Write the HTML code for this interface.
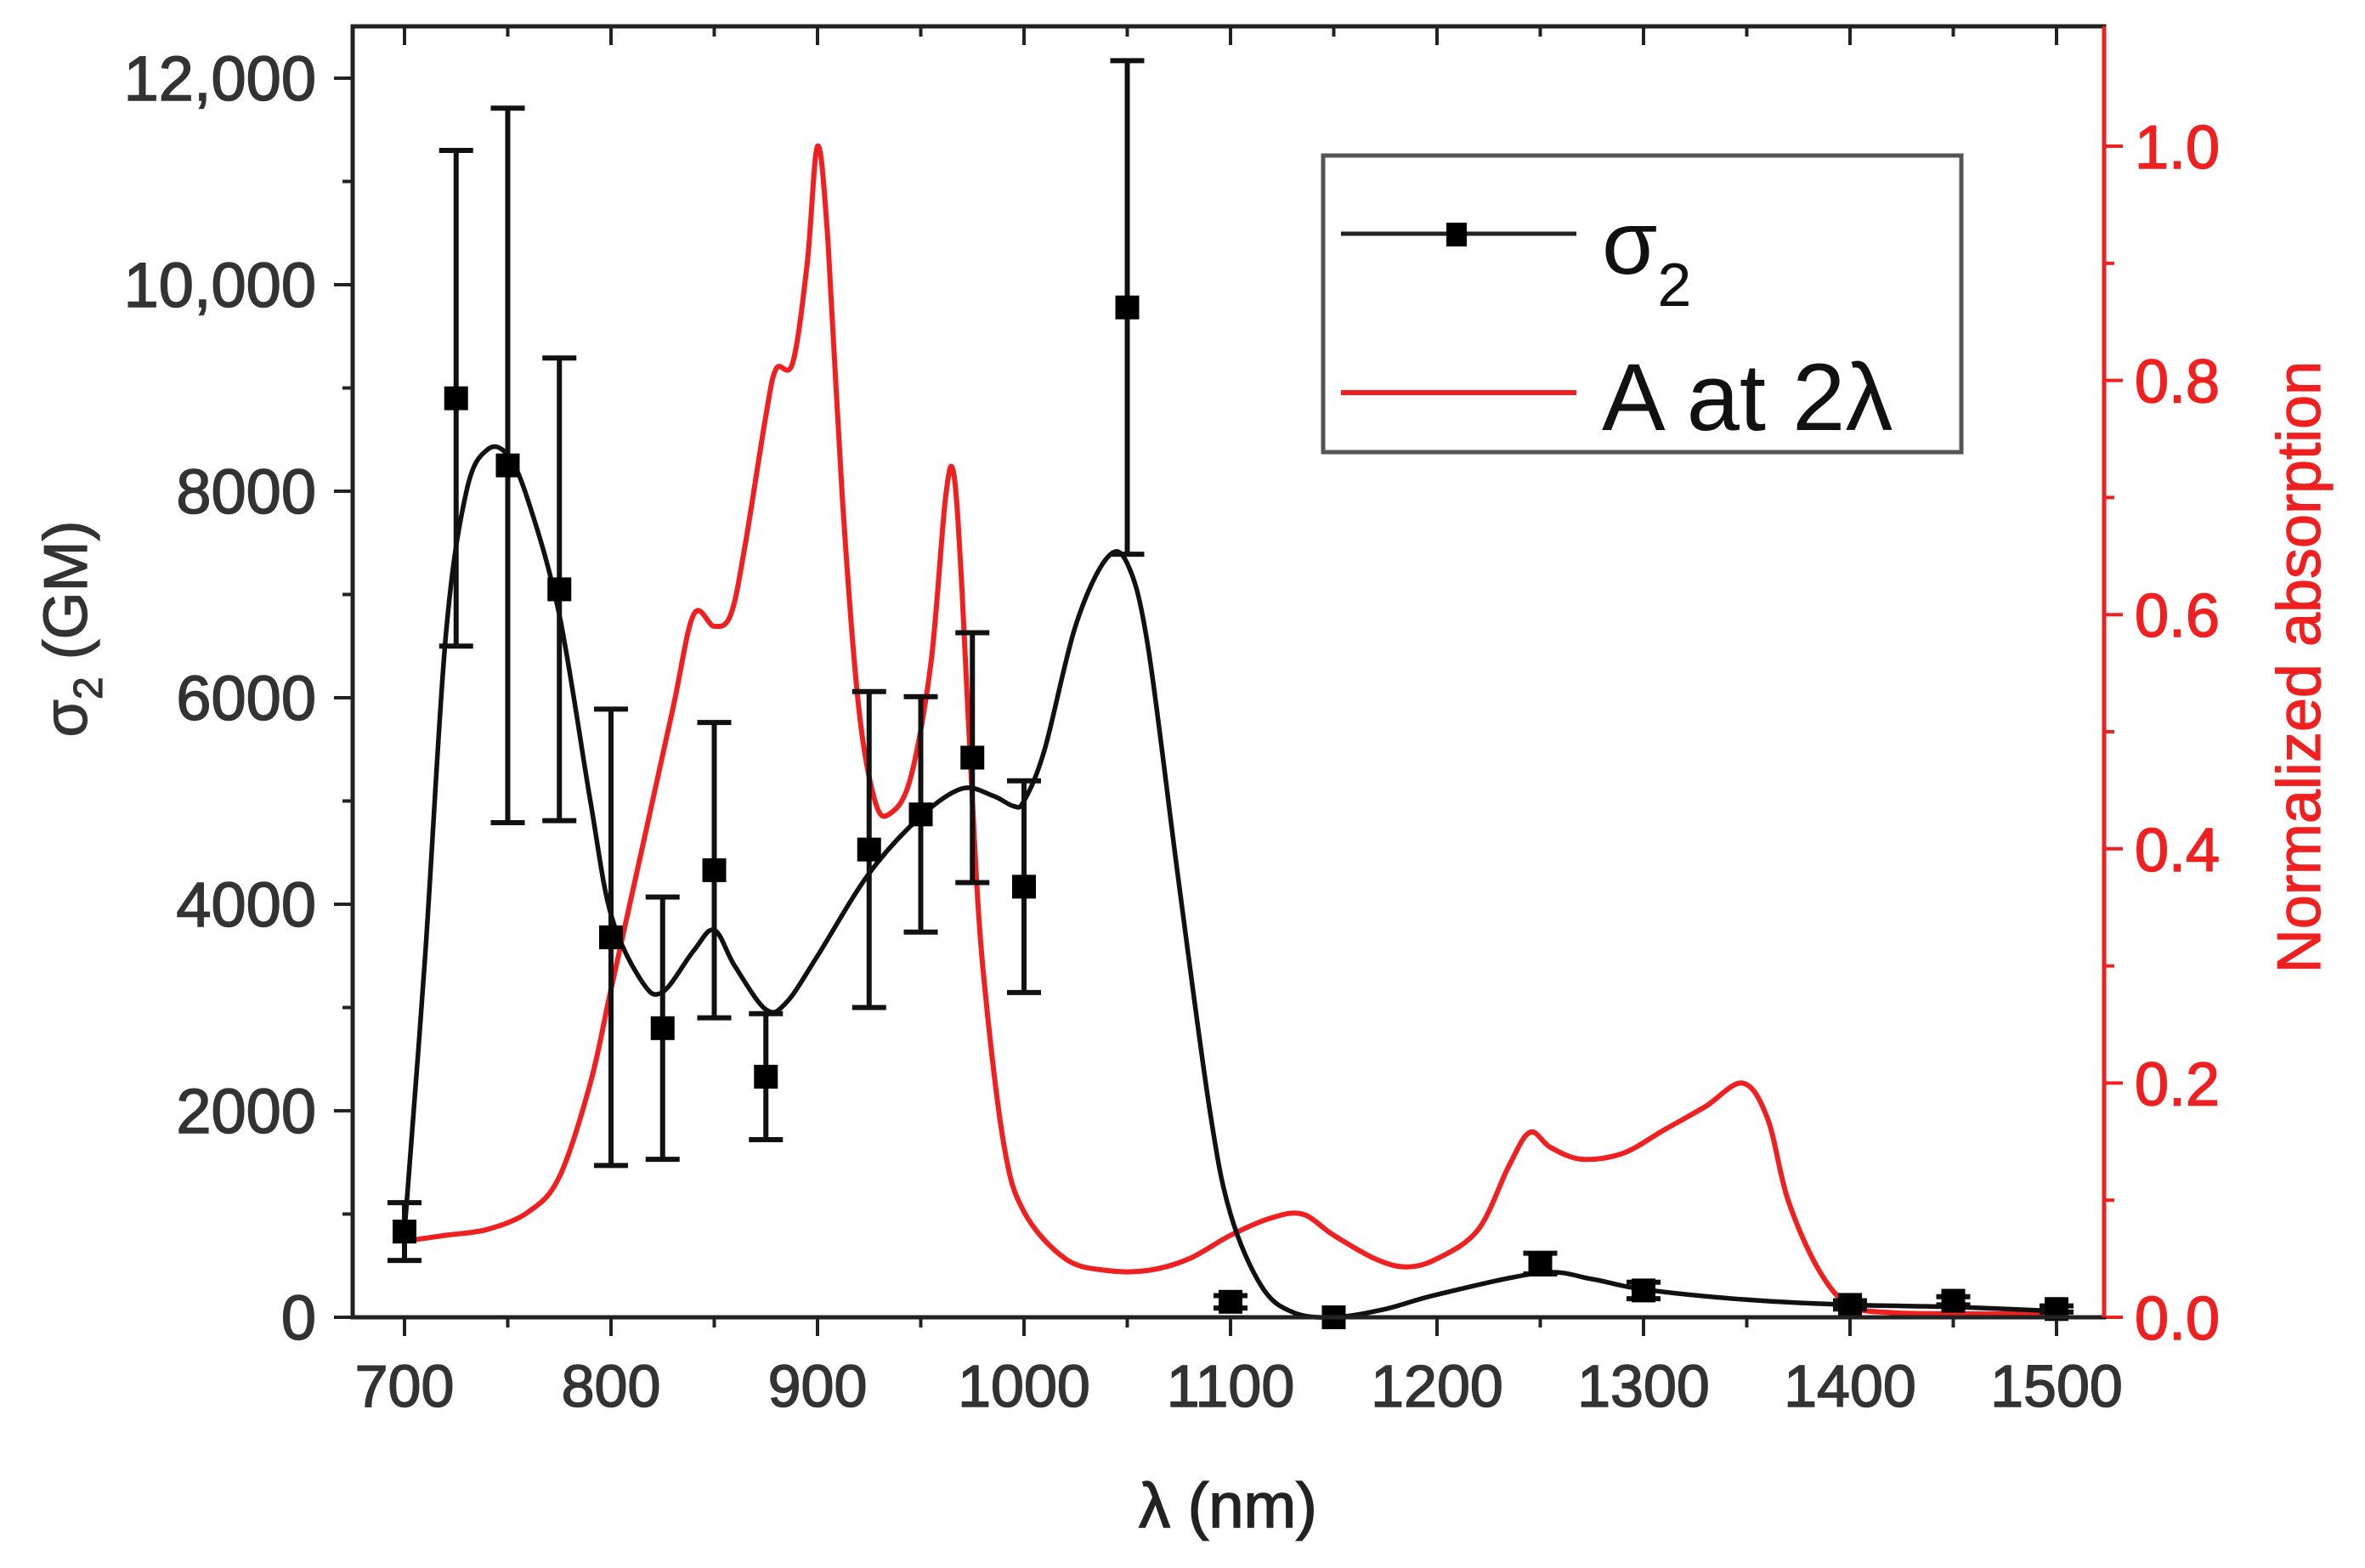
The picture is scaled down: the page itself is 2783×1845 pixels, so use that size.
<!DOCTYPE html>
<html><head><meta charset="utf-8">
<style>
html,body{margin:0;padding:0;background:#fff;}
svg{display:block;font-family:"Liberation Sans",Arial,sans-serif;}
</style></head>
<body>
<svg id="chart" width="2783" height="1845" viewBox="0 0 2783 1845" xmlns="http://www.w3.org/2000/svg">
<rect x="0" y="0" width="2783" height="1845" fill="#fff"/>
<g id="grid-layer"></g>
<g id="red-layer"></g>
<g id="black-layer"></g>
<rect x="415" y="31" width="2061" height="1519" fill="none" stroke="#222" stroke-width="5"/>
<line x1="2476" y1="31" x2="2476" y2="1550" stroke="#f02020" stroke-width="5"/>
<text x="1445" y="1797" font-size="74" stroke="#222" stroke-width="1.5" text-anchor="middle" fill="#222">λ (nm)</text>
<text transform="translate(102,740) rotate(-90)" font-size="72" stroke="#333" stroke-width="1.2" text-anchor="middle" fill="#333">σ<tspan font-size="48" dy="18">2</tspan><tspan dy="-18"> (GM)</tspan></text>
<text transform="translate(2730,785) rotate(-90)" font-size="72" stroke="#f02020" stroke-width="1.2" text-anchor="middle" fill="#f02020">Normalized absorption</text>
<g>
<rect x="1557" y="183" width="751" height="349" fill="#fff" stroke="#555" stroke-width="5"/>
<line x1="1578" y1="275" x2="1855" y2="275" stroke="#222" stroke-width="5"/>
<rect x="1702" y="262" width="24" height="28" fill="#000"/>
<text x="1885" y="322" font-size="106" fill="#111">σ<tspan font-size="72" dy="38">2</tspan></text>
<line x1="1578" y1="462" x2="1855" y2="462" stroke="#f02020" stroke-width="6"/>
<text x="1885" y="506" font-size="112" fill="#111">A at 2λ</text>
</g>
</svg>
<script>
const xTicks = [700,800,900,1000,1100,1200,1300,1400,1500];
const yTicks = [0,2000,4000,6000,8000,10000,12000];
const yTickLabels = ["0","2000","4000","6000","8000","10,000","12,000"];
const y2Ticks = [0,0.2,0.4,0.6,0.8,1.0];
const y2TickLabels = ["0.0","0.2","0.4","0.6","0.8","1.0"];

const sigmaX = [700,725,750,775,800,825,850,875,925,950,975,1000,1050,1100,1150,1250,1300,1400,1450,1500];
const sigmaY = [830,8900,8250,7050,3680,2800,4330,2330,4530,4870,5420,4170,9780,150,0,520,260,120,160,80];
const sigmaErr = [280,2400,3460,2240,2210,1270,1430,610,1530,1140,1210,1025,2390,60,0,100,80,40,40,30];

const fitX = [700,710,720,730,740,750,760,775,790,800,815,825,840,850,860,875,885,900,925,950,970,985,995,1000,1010,1025,1040,1050,1060,1075,1090,1100,1115,1130,1150,1175,1200,1250,1275,1300,1350,1400,1450,1500];
const fitY = [830,3500,6600,8000,8400,8350,7900,6800,5000,3900,3250,3150,3550,3750,3400,2980,3050,3500,4300,4850,5120,5050,4950,5000,5500,6700,7350,7300,6500,4200,2000,1000,300,50,0,80,220,430,370,270,170,120,100,60];

const absX = [700,720,740,760,775,790,800,815,830,840,850,858,865,875,880,888,895,900,905,912,920,928,935,945,955,962,966,970,975,980,990,1000,1020,1040,1060,1080,1100,1120,1135,1150,1170,1185,1200,1220,1235,1245,1255,1270,1290,1310,1330,1348,1360,1370,1385,1400,1420,1450,1500];
const absY = [0.065,0.07,0.075,0.09,0.12,0.2,0.28,0.4,0.52,0.6,0.59,0.6,0.66,0.77,0.81,0.815,0.9,1.0,0.92,0.7,0.52,0.44,0.43,0.46,0.56,0.7,0.72,0.62,0.44,0.3,0.15,0.09,0.05,0.04,0.04,0.05,0.07,0.085,0.088,0.07,0.05,0.043,0.05,0.075,0.13,0.158,0.145,0.135,0.14,0.16,0.18,0.2,0.17,0.1,0.04,0.01,0.004,0.003,0.003];

const NS = "http://www.w3.org/2000/svg";
const X0=476, XS=2.43, Y0=1550, YS=243/2000, Y2S=1378;
function sx(v){return X0+(v-700)*XS;}
function sy(v){return Y0-v*YS;}
function sy2(v){return Y0-v*Y2S;}
function mk(tag, attrs, parent){const e=document.createElementNS(NS,tag);for(const k in attrs)e.setAttribute(k,attrs[k]);parent.appendChild(e);return e;}
function smoothPath(xs, ys, fx, fy){
  const p=xs.map((x,i)=>[fx(x),fy(ys[i])]);
  let d="M"+p[0][0].toFixed(1)+","+p[0][1].toFixed(1);
  for(let i=0;i<p.length-1;i++){
    const p0=p[Math.max(0,i-1)],p1=p[i],p2=p[i+1],p3=p[Math.min(p.length-1,i+2)];
    const c1=[p1[0]+(p2[0]-p0[0])/6,p1[1]+(p2[1]-p0[1])/6];
    const c2=[p2[0]-(p3[0]-p1[0])/6,p2[1]-(p3[1]-p1[1])/6];
    d+=" C"+c1[0].toFixed(1)+","+c1[1].toFixed(1)+" "+c2[0].toFixed(1)+","+c2[1].toFixed(1)+" "+p2[0].toFixed(1)+","+p2[1].toFixed(1);
  }
  return d;
}
const G=document.getElementById("grid-layer");
for(let v=700; v<=1500; v+=50){
  const major = v%100===0;
  const x=sx(v);
  let t=mk("line",{x1:x,y1:1550,x2:x,y2:1550+(major?22:12),stroke:"#222","stroke-width":4},G);
  
  
  let t2=mk("line",{x1:x,y1:31,x2:x,y2:31+(major?22:12),stroke:"#222","stroke-width":4},G);
  
  
}
xTicks.forEach(v=>{
  const e=mk("text",{x:sx(v),y:1655,"font-size":70,"text-anchor":"middle",fill:"#333",stroke:"#333","stroke-width":1.5},G);
  e.textContent=String(v);
  
  
});
for(let v=0; v<=12000; v+=1000){
  const major=v%2000===0;
  const t=mk("line",{x1:415-(major?22:12),y1:sy(v),x2:415,y2:sy(v),stroke:"#222","stroke-width":4},G);
  
  
}
yTicks.forEach((v,i)=>{
  const e=mk("text",{x:372,y:sy(v)+26,"font-size":74,"text-anchor":"end",fill:"#333",stroke:"#333","stroke-width":1.5},G);
  e.textContent=yTickLabels[i];
  
  
});
for(let k=0;k<=10;k++){
  const v=k/10, major=k%2===0;
  const t=mk("line",{x1:2476,y1:sy2(v),x2:2476+(major?22:12),y2:sy2(v),stroke:"#f02020","stroke-width":4},G);
  
  
}
y2Ticks.forEach((v,i)=>{
  const e=mk("text",{x:2512,y:sy2(v)+26,"font-size":72,"text-anchor":"start",fill:"#f02020",stroke:"#f02020","stroke-width":1.5},G);
  e.textContent=y2TickLabels[i];
  
  
});
const R=document.getElementById("red-layer");
const rp=mk("path",{d:smoothPath(absX,absY,sx,sy2),fill:"none",stroke:"#f02020","stroke-width":6,"stroke-linejoin":"round"},R);


const B=document.getElementById("black-layer");
const bp=mk("path",{d:smoothPath(fitX,fitY,sx,sy),fill:"none",stroke:"#111","stroke-width":5.5,"stroke-linejoin":"round"},B);


sigmaX.forEach((x,i)=>{
  const cx=sx(x), y=sigmaY[i], e=sigmaErr[i];
  if(e>0){
    const g=mk("g",{stroke:"#111","stroke-width":6},B);
    
    
    mk("line",{x1:cx,y1:sy(y+e),x2:cx,y2:sy(y-e)},g);
    mk("line",{x1:cx-20,y1:sy(y+e),x2:cx+20,y2:sy(y+e)},g);
    mk("line",{x1:cx-20,y1:sy(y-e),x2:cx+20,y2:sy(y-e)},g);
  }
  const m=mk("rect",{x:cx-14,y:sy(y)-14,width:28,height:28,fill:"#000"},B);
  
  
});
</script>
</body></html>
